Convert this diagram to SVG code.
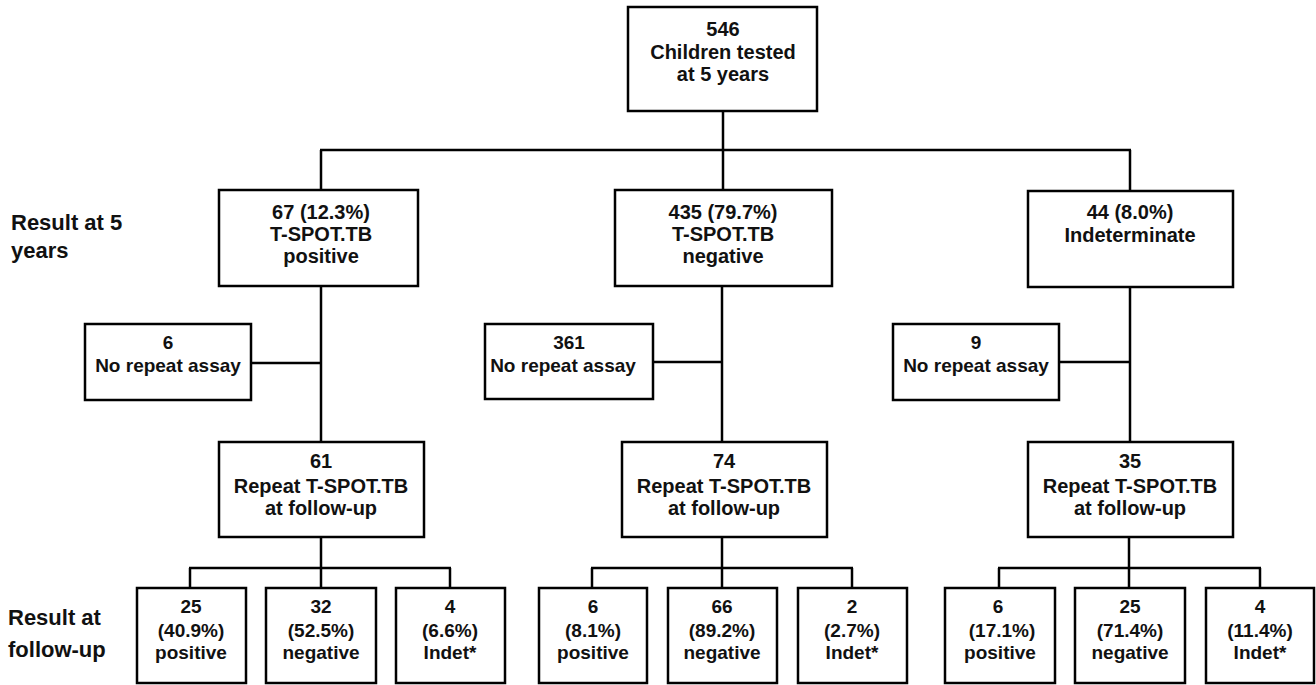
<svg xmlns="http://www.w3.org/2000/svg" width="1316" height="685" viewBox="0 0 1316 685">
<style>
rect{fill:#fff;stroke:#000;stroke-width:2.5}
.c line{stroke:#000;stroke-width:2.5}
text{font-family:"Liberation Sans",Arial,sans-serif;font-weight:bold;fill:#111;text-anchor:middle}
.l{font-size:20px}
.s{font-size:19px}
.side{font-size:22px;text-anchor:start}
</style>
<rect width="1316" height="685" style="fill:#fff;stroke:none"/>
<g class="c" id="connectors">
<line x1="723" y1="111" x2="723" y2="150"/>
<line x1="320" y1="150" x2="1131" y2="150"/>
<line x1="321" y1="150" x2="321" y2="190"/>
<line x1="723" y1="150" x2="723" y2="190"/>
<line x1="1130" y1="150" x2="1130" y2="192"/>
<line x1="321" y1="286" x2="321" y2="442"/>
<line x1="251" y1="363" x2="321" y2="363"/>
<line x1="722" y1="286" x2="722" y2="442"/>
<line x1="653" y1="362" x2="722" y2="362"/>
<line x1="1130" y1="287" x2="1130" y2="442"/>
<line x1="1059" y1="362" x2="1130" y2="362"/>
<line x1="321" y1="537" x2="321" y2="588"/>
<line x1="189" y1="568" x2="451" y2="568"/>
<line x1="190" y1="568" x2="190" y2="588"/>
<line x1="450" y1="568" x2="450" y2="588"/>
<line x1="722" y1="537" x2="722" y2="588"/>
<line x1="591" y1="568" x2="853" y2="568"/>
<line x1="592" y1="568" x2="592" y2="588"/>
<line x1="852" y1="568" x2="852" y2="588"/>
<line x1="1129" y1="537" x2="1129" y2="588"/>
<line x1="998" y1="568" x2="1261" y2="568"/>
<line x1="999" y1="568" x2="999" y2="588"/>
<line x1="1260" y1="568" x2="1260" y2="588"/>
</g>
<g id="label-5y"><text class="side" x="11" y="230">Result at 5</text><text class="side" x="11" y="258">years</text></g>
<g id="label-fu"><text class="side" x="8" y="625">Result at</text><text class="side" x="8" y="657">follow-up</text></g>
<g id="n-top"><rect x="628" y="7" width="189" height="104"/><text class="l" x="723" y="36">546</text><text class="l" x="723" y="59">Children tested</text><text class="l" x="723" y="81">at 5 years</text></g>
<g id="n-pos"><rect x="219" y="190" width="199" height="96"/><text class="l" x="321" y="219">67 (12.3%)</text><text class="l" x="321" y="241">T-SPOT.TB</text><text class="l" x="321" y="263">positive</text></g>
<g id="n-neg"><rect x="615" y="190" width="217" height="96"/><text class="l" x="723" y="219">435 (79.7%)</text><text class="l" x="723" y="241">T-SPOT.TB</text><text class="l" x="723" y="263">negative</text></g>
<g id="n-ind"><rect x="1028" y="191" width="205" height="96"/><text class="l" x="1130" y="219">44 (8.0%)</text><text class="l" x="1130" y="242">Indeterminate</text></g>
<g id="n-nr1"><rect x="85" y="324" width="166" height="76"/><text class="s" x="168" y="349">6</text><text class="s" x="168" y="372">No repeat assay</text></g>
<g id="n-nr2"><rect x="485" y="324" width="168" height="75"/><text class="s" x="569" y="349">361</text><text class="s" x="563" y="372">No repeat assay</text></g>
<g id="n-nr3"><rect x="893" y="324" width="166" height="76"/><text class="s" x="976" y="349">9</text><text class="s" x="976" y="372">No repeat assay</text></g>
<g id="n-r1"><rect x="219" y="442" width="205" height="95"/><text class="l" x="321" y="468">61</text><text class="l" x="321" y="493">Repeat T-SPOT.TB</text><text class="l" x="321" y="515">at follow-up</text></g>
<g id="n-r2"><rect x="622" y="442" width="205" height="95"/><text class="l" x="724" y="468">74</text><text class="l" x="724" y="493">Repeat T-SPOT.TB</text><text class="l" x="724" y="515">at follow-up</text></g>
<g id="n-r3"><rect x="1028" y="442" width="205" height="95"/><text class="l" x="1130" y="468">35</text><text class="l" x="1130" y="493">Repeat T-SPOT.TB</text><text class="l" x="1130" y="515">at follow-up</text></g>
<g id="n-b1"><rect x="137" y="588" width="109" height="95"/><text class="s" x="191" y="613">25</text><text class="s" x="191" y="637">(40.9%)</text><text class="s" x="191" y="659">positive</text></g>
<g id="n-b2"><rect x="266" y="588" width="110" height="95"/><text class="s" x="321" y="613">32</text><text class="s" x="321" y="637">(52.5%)</text><text class="s" x="321" y="659">negative</text></g>
<g id="n-b3"><rect x="396" y="588" width="109" height="95"/><text class="s" x="450" y="613">4</text><text class="s" x="450" y="637">(6.6%)</text><text class="s" x="450" y="659">Indet*</text></g>
<g id="n-b4"><rect x="539" y="588" width="108" height="95"/><text class="s" x="593" y="613">6</text><text class="s" x="593" y="637">(8.1%)</text><text class="s" x="593" y="659">positive</text></g>
<g id="n-b5"><rect x="668" y="588" width="109" height="95"/><text class="s" x="722" y="613">66</text><text class="s" x="722" y="637">(89.2%)</text><text class="s" x="722" y="659">negative</text></g>
<g id="n-b6"><rect x="798" y="588" width="109" height="95"/><text class="s" x="852" y="613">2</text><text class="s" x="852" y="637">(2.7%)</text><text class="s" x="852" y="659">Indet*</text></g>
<g id="n-b7"><rect x="945" y="588" width="110" height="95"/><text class="s" x="998" y="613">6</text><text class="s" x="1002" y="637">(17.1%)</text><text class="s" x="1000" y="659">positive</text></g>
<g id="n-b8"><rect x="1075" y="588" width="110" height="95"/><text class="s" x="1130" y="613">25</text><text class="s" x="1130" y="637">(71.4%)</text><text class="s" x="1130" y="659">negative</text></g>
<g id="n-b9"><rect x="1206" y="588" width="108" height="95"/><text class="s" x="1260" y="613">4</text><text class="s" x="1260" y="637">(11.4%)</text><text class="s" x="1260" y="659">Indet*</text></g>
</svg>
